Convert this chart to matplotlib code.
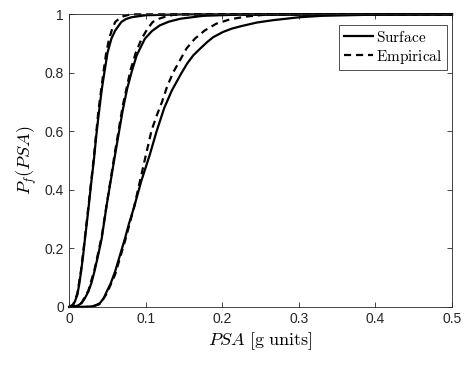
import matplotlib

matplotlib.use("Agg")
import matplotlib.pyplot as plt

# Values (PSA in g, probability of failure)
surface_1_x = [0.0, 0.005, 0.0075, 0.0104, 0.0128, 0.0153, 0.018, 0.0205, 0.0248, 0.028, 0.032, 0.035, 0.038, 0.0425,
               0.0457, 0.050, 0.055, 0.060, 0.068, 0.074, 0.081, 0.10, 0.15, 0.5]
surface_1_y = [0.0, 0.007, 0.02, 0.041, 0.075, 0.12, 0.175, 0.234, 0.331, 0.41, 0.50, 0.58, 0.65, 0.745,
               0.80, 0.87, 0.917, 0.945, 0.974, 0.984, 0.99, 0.997, 1.0, 1.0]

surface_2_x = [0.0, 0.008, 0.012, 0.016, 0.020, 0.0248, 0.029, 0.0327, 0.0375, 0.0423, 0.0488, 0.054, 0.0597, 0.065,
               0.070, 0.0755, 0.0814, 0.088, 0.0988, 0.108, 0.118, 0.130, 0.145, 0.175, 0.22, 0.5]
surface_2_y = [0.0, 0.002, 0.006, 0.013, 0.028, 0.052, 0.083, 0.12, 0.175, 0.234, 0.348, 0.43, 0.519, 0.60,
               0.675, 0.745, 0.803, 0.86, 0.917, 0.943, 0.962, 0.975, 0.985, 0.995, 0.999, 1.0]

surface_3_x = [0.0, 0.02, 0.03, 0.035, 0.040, 0.045, 0.0488, 0.054, 0.0597, 0.066, 0.0727, 0.078, 0.0845, 0.094,
               0.105, 0.114, 0.124, 0.134, 0.146, 0.154, 0.162, 0.171, 0.180, 0.188, 0.201, 0.212, 0.225, 0.245,
               0.266, 0.30, 0.33, 0.40, 0.5]
surface_3_y = [0.0, 0.0, 0.002, 0.006, 0.013, 0.03, 0.052, 0.08, 0.12, 0.175, 0.234, 0.285, 0.34, 0.43,
               0.519, 0.60, 0.68, 0.74, 0.797, 0.832, 0.86, 0.883, 0.905, 0.922, 0.94, 0.951, 0.96, 0.972,
               0.98, 0.99, 0.995, 0.999, 1.0]

empirical_1_x = [0.0, 0.005, 0.0104, 0.0153, 0.0205, 0.0248, 0.032, 0.038, 0.0445, 0.048, 0.052, 0.056, 0.060,
                 0.065, 0.070, 0.080, 0.5]
empirical_1_y = [0.0, 0.008, 0.045, 0.125, 0.24, 0.34, 0.51, 0.67, 0.80, 0.865, 0.917, 0.95, 0.974,
                 0.985, 0.993, 1.0, 1.0]

empirical_2_x = [0.0, 0.008, 0.016, 0.0248, 0.0327, 0.0423, 0.0488, 0.0597, 0.070, 0.080, 0.087, 0.0945, 0.102,
                 0.109, 0.116, 0.123, 0.135, 0.15, 0.5]
empirical_2_y = [0.0, 0.002, 0.014, 0.055, 0.125, 0.24, 0.35, 0.53, 0.69, 0.81, 0.87, 0.917, 0.95,
                 0.974, 0.984, 0.99, 0.998, 1.0, 1.0]

empirical_3_x = [0.0, 0.02, 0.03, 0.040, 0.0488, 0.0597, 0.0727, 0.0845, 0.100, 0.1075, 0.115, 0.121, 0.128,
                 0.136, 0.145, 0.153, 0.164, 0.177, 0.192, 0.210, 0.232, 0.253, 0.28, 0.5]
empirical_3_y = [0.0, 0.0, 0.001, 0.010, 0.045, 0.11, 0.225, 0.34, 0.519, 0.604, 0.66, 0.70, 0.755,
                 0.803, 0.845, 0.883, 0.917, 0.945, 0.968, 0.983, 0.993, 0.998, 1.0, 1.0]

x_ticks = [0, 0.1, 0.2, 0.3, 0.4, 0.5]
x_tick_labels = ["0", "0.1", "0.2", "0.3", "0.4", "0.5"]
y_ticks = [0, 0.2, 0.4, 0.6, 0.8, 1.0]
y_tick_labels = ["0", "0.2", "0.4", "0.6", "0.8", "1"]

plt.rcParams["mathtext.fontset"] = "cm"
plt.rcParams["font.family"] = ["Liberation Sans", "DejaVu Sans"]

fig = plt.figure(figsize=(4.7, 3.68), dpi=100)
ax = fig.add_axes([0.1475, 0.166, 0.8142, 0.795])

line_kw = dict(color="black", linewidth=1.6, clip_on=False, solid_joinstyle="round")
surfaces = [(surface_1_x, surface_1_y), (surface_2_x, surface_2_y), (surface_3_x, surface_3_y)]
empiricals = [(empirical_1_x, empirical_1_y), (empirical_2_x, empirical_2_y), (empirical_3_x, empirical_3_y)]

for i, (xs, ys) in enumerate(surfaces):
    ax.plot(xs, ys, linestyle="-", label=r"$\mathrm{Surface}$" if i == 0 else None, **line_kw)
for i, (xs, ys) in enumerate(empiricals):
    ax.plot(xs, ys, linestyle=(0, (3.2, 2.2)), label=r"$\mathrm{Empirical}$" if i == 0 else None, **line_kw)

ax.set_xlim(0, 0.5)
ax.set_ylim(0, 1)
ax.set_xticks(x_ticks, labels=x_tick_labels)
ax.set_yticks(y_ticks, labels=y_tick_labels)
ax.tick_params(direction="in", length=3.5, width=0.6, top=True, right=True,
               labelsize=10, colors="#262626", pad=4)
for spine in ax.spines.values():
    spine.set_linewidth(0.6)
    spine.set_color("#262626")

ax.set_xlabel(r"$PSA\ \mathrm{[g\ units]}$", fontsize=13, labelpad=3)
ax.set_ylabel(r"$P_f(PSA)$", fontsize=13, labelpad=4)

leg = ax.legend(loc="upper right", bbox_to_anchor=(0.986, 0.963), fontsize=11,
                frameon=True, fancybox=False, edgecolor="black", handlelength=1.9,
                handletextpad=0.2, borderpad=0.3, labelspacing=0.2, borderaxespad=0)
leg.get_frame().set_linewidth(0.6)

fig.savefig("out.png", dpi=100)
